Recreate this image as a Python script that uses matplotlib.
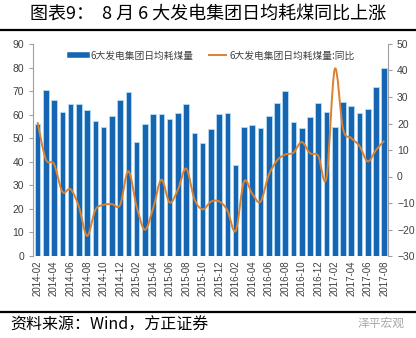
import matplotlib
matplotlib.use("Agg")
import matplotlib.pyplot as plt
from matplotlib.path import Path
from matplotlib.patches import PathPatch
from matplotlib.lines import Line2D
import numpy as np

plt.rcParams['font.family'] = ['Noto Sans CJK SC', 'DejaVu Sans']

# ---- data ----
months = []
for y in (2014, 2015, 2016, 2017):
    for m in range(1, 13):
        months.append(f"{y}-{m:02d}")
months = months[1:1 + 43]  # 2014-02 .. 2017-08

coal_use = [56, 70.3, 66.4, 61, 64.4, 64.4, 61.8, 57.3, 54.9, 59.4, 66.1, 69.7,
            48.5, 56, 60.1, 60.4, 58, 60.6, 64.5, 52.1, 48.1, 54.1, 60.1, 60.7,
            38.7, 54.9, 55.5, 54.5, 59.3, 65, 70.2, 57, 54.5, 58.8, 65, 61,
            54.7, 65.2, 63.6, 60.6, 62.6, 71.9, 79.9]

yoy = [20.5, 6.5, 4.7, -5.7, -4.8, -11.3, -22.4, -12.6, -10.7, -10.4, -10.7, 2,
       -11.3, -20.1, -12, -1.2, -9.8, -5, 3, -8.5, -12.4, -9.5, -9.4, -12.8,
       -20.5, -2, -6.5, -9.5, 0.5, 6, 8.3, 9, 13, 8.8, 7.8, -0.5,
       40.5, 18, 14.5, 11.5, 5.7, 10, 13.5]

title = "图表9：  8 月 6 大发电集团日均耗煤同比上涨"
bar_label = "6大发电集团日均耗煤量"
line_label = "6大发电集团日均耗煤量:同比"
source = "资料来源：Wind，方正证券"
brand = "泽平宏观"

BLUE = "#1565B2"
ORANGE = "#DB8130"
TXT = "#404040"

W, H = 416, 338
fig = plt.figure(figsize=(W / 100, H / 100), dpi=100)
fig.patch.set_facecolor("white")

ax = fig.add_axes([33 / W, 1 - 256 / H, (388 - 33) / W, (256 - 44) / H])
x = np.arange(len(coal_use))
ax.bar(x, coal_use, width=0.68, color=BLUE, edgecolor="#B5DDF3", linewidth=0.6, zorder=2)
ax.set_xlim(-0.55, len(coal_use) - 0.55)
ax.set_ylim(0, 90)
ax.set_yticks(np.arange(0, 91, 10))
ax.set_xticks(x[::2])
ax.set_xticklabels(months[::2], rotation=90, fontsize=7, family="Liberation Sans", color=TXT)
for s in ("top", "bottom", "right"):
    ax.spines[s].set_visible(False)
ax.spines["left"].set_color("#A0A0A0")
ax.spines["left"].set_linewidth(0.8)
ax.tick_params(axis="y", labelsize=7.5, colors=TXT, length=3, width=0.8, direction="out", color="#A0A0A0")
ax.tick_params(axis="x", length=0, pad=3)
for lab in ax.get_yticklabels():
    lab.set_family("Liberation Sans")

ax2 = ax.twinx()
ax2.set_ylim(-30, 50)
ax2.set_yticks(np.arange(-30, 51, 10))
for s in ("top", "bottom", "left"):
    ax2.spines[s].set_visible(False)
ax2.spines["right"].set_color("#A0A0A0")
ax2.spines["right"].set_linewidth(0.8)
ax2.tick_params(axis="y", labelsize=7.5, colors=TXT, length=3, width=0.8, direction="out", color="#A0A0A0")
for lab in ax2.get_yticklabels():
    lab.set_family("Liberation Sans")

# smoothed line (Bezier through the data points, like Excel's smoothed line)
pts = np.column_stack([x, yoy]).astype(float)
verts = [tuple(pts[0])]
codes = [Path.MOVETO]
n = len(pts)
for i in range(n - 1):
    p0 = pts[i - 1] if i > 0 else pts[i]
    p1 = pts[i]
    p2 = pts[i + 1]
    p3 = pts[i + 2] if i + 2 < n else pts[i + 1]
    c1 = p1 + (p2 - p0) / 6.0
    c2 = p2 - (p3 - p1) / 6.0
    verts += [tuple(c1), tuple(c2), tuple(p2)]
    codes += [Path.CURVE4] * 3
ax2.add_patch(PathPatch(Path(verts, codes), facecolor="none", edgecolor=ORANGE, linewidth=1.4, zorder=3))

handles = [Line2D([0], [0], color=BLUE, lw=4), Line2D([0], [0], color=ORANGE, lw=1.4)]
leg = ax2.legend(handles, [bar_label, line_label], loc="upper center", bbox_to_anchor=(0.505, 1.0),
                 ncol=2, frameon=False, fontsize=7, handlelength=1.8, handletextpad=0.3,
                 columnspacing=1.6, borderaxespad=0.3)
for t in leg.get_texts():
    t.set_color(TXT)

# title and rules
fig.text(0.5, 1 - 15 / H, title, ha="center", va="center", fontsize=13, color="black")
fig.add_artist(Line2D([0, 1], [1 - 30 / H, 1 - 30 / H], transform=fig.transFigure, color="black", lw=1.6))
fig.add_artist(Line2D([0, 1], [1 - 311.5 / H, 1 - 311.5 / H], transform=fig.transFigure, color="black", lw=1.6))

fig.text(10 / W, 1 - 325 / H, source, ha="left", va="center", fontsize=11.5, style="italic", color="black")
fig.text(404 / W, 1 - 323 / H, brand, ha="right", va="center", fontsize=8.5, color="#A8A8A8")

fig.savefig("out.png", dpi=100, facecolor="white")
